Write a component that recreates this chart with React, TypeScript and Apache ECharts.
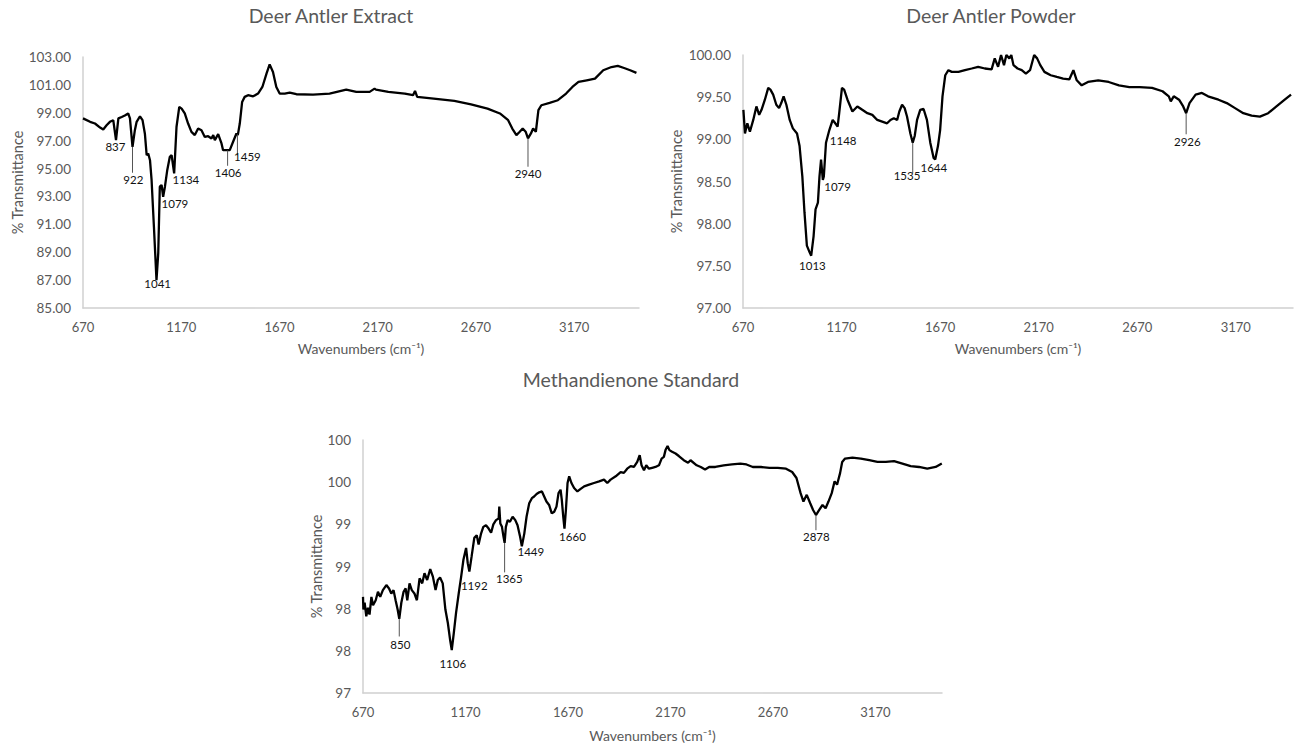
import React, { useEffect, useRef } from 'react';
import * as echarts from 'echarts';

// ---------- tick labels ----------
const xTickLabels = [670, 1170, 1670, 2170, 2670, 3170];

// ---------- titles ----------
const chartTitles = ['Deer Antler Extract', 'Deer Antler Powder', 'Methandienone Standard'];

// ---------- Deer Antler Extract spectrum [wavenumber, %T] ----------
const extractSpectrum: [number, number][] = [
  [670, 98.6], [706, 98.35], [731, 98.23], [757, 97.94], [773, 97.8], [790, 98.1], [807, 98.35], [824, 98.47],
  [838, 97.04], [850, 98.6], [867, 98.7], [883, 98.8], [900, 98.95], [909, 98.6], [922, 96.56], [934, 97.75],
  [943, 98.35], [960, 98.75], [973, 98.47], [985, 97.5], [994, 95.96], [1002, 96.08], [1011, 95.6], [1019, 94.2],
  [1031, 90.83], [1044, 87.0], [1053, 88.93], [1061, 93.7], [1070, 93.82], [1078, 92.98], [1087, 93.7],
  [1099, 94.9], [1112, 95.84], [1121, 95.96], [1134, 94.65], [1146, 98.0], [1160, 99.42], [1172, 99.3],
  [1188, 98.95], [1205, 98.23], [1222, 97.63], [1239, 97.4], [1256, 97.87], [1273, 97.75], [1290, 97.27],
  [1307, 97.32], [1324, 97.16], [1333, 97.4], [1341, 97.04], [1358, 97.47], [1375, 96.8], [1383, 96.32],
  [1400, 96.32], [1417, 96.32], [1434, 96.92], [1451, 97.51], [1458, 97.4], [1468, 98.23], [1480, 99.78],
  [1493, 100.14], [1510, 100.26], [1536, 100.18], [1561, 100.38], [1583, 100.85], [1604, 101.81],
  [1620, 102.47], [1637, 101.92], [1654, 100.85], [1671, 100.38], [1697, 100.38], [1722, 100.45],
  [1756, 100.33], [1841, 100.3], [1925, 100.38], [2010, 100.66], [2061, 100.5], [2129, 100.5], [2154, 100.73],
  [2161, 100.66], [2224, 100.5], [2308, 100.38], [2350, 100.26], [2360, 100.57], [2371, 100.14],
  [2455, 100.02], [2560, 99.85], [2645, 99.61], [2729, 99.3], [2792, 98.95], [2834, 98.47], [2855, 97.87],
  [2876, 97.4], [2893, 97.64], [2908, 97.87], [2923, 97.64], [2935, 97.16], [2950, 97.52], [2961, 97.87],
  [2975, 97.64], [2988, 99.19], [3003, 99.54], [3045, 99.71], [3087, 99.9], [3129, 100.38], [3161, 100.85],
  [3192, 101.21], [3234, 101.33], [3276, 101.45], [3318, 102.05], [3360, 102.28], [3392, 102.36],
  [3424, 102.21], [3455, 102.05], [3487, 101.86],
];

// ---------- Deer Antler Powder spectrum ----------
const powderSpectrum: [number, number][] = [
  [672, 99.35], [680, 99.07], [692, 99.19], [705, 99.09], [722, 99.23], [738, 99.39], [752, 99.29],
  [764, 99.35], [781, 99.47], [798, 99.61], [809, 99.59], [823, 99.53], [839, 99.41], [853, 99.37],
  [864, 99.43], [876, 99.51], [890, 99.41], [907, 99.23], [923, 99.13], [944, 99.07], [957, 98.92],
  [971, 98.56], [982, 98.13], [994, 97.74], [1008, 97.66], [1016, 97.62], [1028, 97.85], [1038, 98.17],
  [1050, 98.25], [1058, 98.56], [1066, 98.76], [1075, 98.52], [1080, 98.56], [1091, 98.96], [1108, 99.11],
  [1125, 99.23], [1138, 99.19], [1150, 99.15], [1158, 99.31], [1172, 99.61], [1183, 99.59], [1200, 99.47],
  [1225, 99.33], [1250, 99.39], [1275, 99.35], [1301, 99.31], [1326, 99.29], [1351, 99.23], [1376, 99.21],
  [1401, 99.19], [1418, 99.23], [1435, 99.25], [1452, 99.23], [1463, 99.33], [1477, 99.41], [1490, 99.37],
  [1502, 99.27], [1519, 99.07], [1531, 98.96], [1541, 99.04], [1553, 99.23], [1569, 99.35], [1586, 99.36],
  [1603, 99.23], [1620, 98.96], [1637, 98.78], [1645, 98.76], [1659, 98.92], [1670, 99.11], [1682, 99.51],
  [1696, 99.76], [1712, 99.82], [1729, 99.8], [1763, 99.8], [1796, 99.82], [1830, 99.84], [1863, 99.86],
  [1897, 99.84], [1931, 99.83], [1947, 99.96], [1964, 99.86], [1979, 100.0], [1994, 99.88], [2006, 100.0],
  [2021, 99.96], [2031, 100.0], [2042, 99.88], [2063, 99.84], [2084, 99.82], [2105, 99.78], [2126, 99.82],
  [2147, 100.0], [2162, 99.96], [2178, 99.88], [2199, 99.8], [2231, 99.76], [2262, 99.74], [2294, 99.72],
  [2325, 99.71], [2346, 99.82], [2363, 99.7], [2388, 99.64], [2420, 99.68], [2472, 99.7], [2525, 99.68],
  [2577, 99.64], [2630, 99.62], [2682, 99.62], [2745, 99.61], [2798, 99.57], [2830, 99.51], [2840, 99.45],
  [2855, 99.51], [2882, 99.47], [2903, 99.39], [2918, 99.31], [2935, 99.43], [2966, 99.53], [2998, 99.55],
  [3029, 99.51], [3082, 99.47], [3124, 99.43], [3166, 99.37], [3208, 99.31], [3250, 99.28], [3292, 99.27],
  [3334, 99.31], [3376, 99.39], [3418, 99.47], [3450, 99.53],
];

// ---------- Methandienone Standard spectrum ----------
const standardSpectrum: [number, number][] = [
  [670, 98.14], [672, 97.99], [678, 98.07], [686, 97.91], [694, 98.01], [702, 97.93], [711, 98.14],
  [719, 98.04], [732, 98.1], [743, 98.2], [754, 98.14], [767, 98.22], [784, 98.28], [797, 98.24],
  [808, 98.18], [819, 98.22], [829, 98.1], [839, 97.99], [847, 97.88], [857, 98.07], [868, 98.2],
  [878, 98.24], [886, 98.1], [897, 98.3], [908, 98.22], [921, 98.18], [933, 98.1], [946, 98.36],
  [959, 98.3], [970, 98.42], [983, 98.34], [998, 98.47], [1011, 98.38], [1024, 98.22], [1035, 98.34],
  [1046, 98.37], [1059, 98.3], [1072, 97.99], [1084, 97.83], [1095, 97.63], [1103, 97.51], [1113, 97.71],
  [1124, 97.95], [1137, 98.18], [1149, 98.38], [1160, 98.58], [1173, 98.72], [1181, 98.54], [1189, 98.44],
  [1200, 98.62], [1213, 98.84], [1225, 98.87], [1234, 98.76], [1246, 98.89], [1257, 98.97], [1270, 98.99],
  [1283, 98.95], [1295, 98.9], [1306, 99.0], [1319, 99.05], [1332, 99.07], [1335, 99.21], [1340, 99.01],
  [1348, 98.97], [1355, 98.86], [1361, 98.78], [1367, 98.97], [1376, 99.05], [1387, 99.03], [1400, 99.09],
  [1413, 99.05], [1424, 98.99], [1436, 98.86], [1445, 98.74], [1457, 98.89], [1468, 99.09], [1481, 99.25],
  [1494, 99.31], [1505, 99.33], [1517, 99.36], [1530, 99.38], [1543, 99.39], [1554, 99.33], [1565, 99.27],
  [1578, 99.23], [1591, 99.13], [1603, 99.15], [1614, 99.21], [1624, 99.37], [1634, 99.41], [1640, 99.29],
  [1647, 99.09], [1653, 98.95], [1660, 99.17], [1668, 99.49], [1676, 99.57], [1687, 99.49], [1700, 99.43],
  [1716, 99.39], [1732, 99.42], [1749, 99.45], [1773, 99.47], [1797, 99.49], [1822, 99.51], [1846, 99.53],
  [1862, 99.49], [1878, 99.53], [1903, 99.57], [1927, 99.62], [1943, 99.61], [1959, 99.66], [1976, 99.69],
  [1992, 99.68], [2008, 99.74], [2020, 99.82], [2029, 99.7], [2041, 99.64], [2052, 99.7], [2065, 99.66],
  [2081, 99.67], [2097, 99.68], [2114, 99.7], [2127, 99.78], [2138, 99.8], [2146, 99.88], [2156, 99.93],
  [2165, 99.88], [2178, 99.86], [2195, 99.84], [2211, 99.81], [2235, 99.76], [2256, 99.73], [2268, 99.76],
  [2298, 99.7], [2318, 99.68], [2339, 99.65], [2359, 99.68], [2389, 99.68], [2430, 99.7], [2470, 99.71],
  [2511, 99.72], [2541, 99.71], [2572, 99.68], [2612, 99.68], [2653, 99.67], [2694, 99.67], [2734, 99.66],
  [2764, 99.62], [2785, 99.55], [2805, 99.37], [2819, 99.27], [2835, 99.35], [2852, 99.25], [2866, 99.17],
  [2880, 99.11], [2896, 99.17], [2912, 99.23], [2927, 99.19], [2941, 99.27], [2957, 99.37], [2971, 99.51],
  [2983, 99.47], [2998, 99.61], [3008, 99.74], [3022, 99.78], [3058, 99.79], [3099, 99.78], [3140, 99.76],
  [3180, 99.74], [3221, 99.74], [3261, 99.75], [3302, 99.72], [3342, 99.69], [3383, 99.68], [3423, 99.66],
  [3464, 99.68], [3494, 99.72],
];

// ---------- peak annotations: labels and [peakX, peakY, lineEndY, labelX, labelY] ----------
const extractPeakLabels = ['837', '922', '1041', '1079', '1134', '1406', '1459', '2940'];
const extractPeakPos: number[][] = [
  [838, 97.04, 97.04, 835, 96.55],
  [922, 96.56, 94.7, 926, 94.22],
  [1044, 87.0, 87.0, 1050, 86.75],
  [1078, 92.98, 92.98, 1138, 92.5],
  [1134, 94.65, 94.65, 1194, 94.22],
  [1406, 96.3, 95.2, 1409, 94.72],
  [1456, 97.45, 95.95, 1507, 95.85],
  [2935, 97.16, 95.13, 2935, 94.65],
];

const powderPeakLabels = ['1013', '1079', '1148', '1535', '1644', '2926'];
const powderPeakPos: number[][] = [
  [1016, 97.62, 97.62, 1022, 97.5],
  [1075, 98.52, 98.52, 1150, 98.44],
  [1150, 99.15, 99.15, 1178, 98.99],
  [1531, 98.96, 98.6, 1502, 98.57],
  [1645, 98.76, 98.76, 1638, 98.67],
  [2918, 99.31, 99.06, 2924, 98.97],
];

const standardPeakLabels = ['850', '1106', '1192', '1365', '1449', '1660', '2878'];
const standardPeakPos: number[][] = [
  [847, 97.88, 97.67, 852, 97.57],
  [1103, 97.51, 97.51, 1108, 97.35],
  [1189, 98.44, 98.44, 1213, 98.28],
  [1361, 98.78, 98.43, 1384, 98.36],
  [1445, 98.74, 98.74, 1489, 98.68],
  [1653, 98.95, 98.95, 1692, 98.86],
  [2880, 99.11, 98.93, 2882, 98.86],
];

const FONT = 'Lato, "Open Sans", sans-serif';
const GRAY = '#595959';

function annotationSeries(idx: number, labels: string[], pos: number[][]) {
  return {
    type: 'custom',
    xAxisIndex: idx,
    yAxisIndex: idx,
    silent: true,
    clip: false,
    z: 5,
    data: pos,
    renderItem: (params: any, api: any) => {
      const p0 = api.coord([api.value(0), api.value(1)]);
      const p1 = api.coord([api.value(0), api.value(2)]);
      const pl = api.coord([api.value(3), api.value(4)]);
      const children: any[] = [];
      if (api.value(2) !== api.value(1)) {
        children.push({
          type: 'line',
          shape: { x1: p0[0], y1: p0[1], x2: p1[0], y2: p1[1] },
          style: { stroke: '#555', lineWidth: 1 },
        });
      }
      children.push({
        type: 'text',
        x: pl[0],
        y: pl[1],
        style: {
          text: labels[params.dataIndex],
          fill: '#111',
          fontSize: 11.5,
          fontFamily: FONT,
          align: 'center',
          verticalAlign: 'middle',
        },
      });
      return { type: 'group', children };
    },
  };
}

function xAxisFor(idx: number, max: number, gap: number) {
  return {
    type: 'value',
    gridIndex: idx,
    min: 670,
    max,
    interval: 500,
    name: 'Wavenumbers (cm\u207B\u00B9)',
    nameLocation: 'middle',
    nameGap: gap,
    nameTextStyle: { color: GRAY, fontSize: 14, fontFamily: FONT },
    axisLine: { show: true, lineStyle: { color: '#d0d0d0', width: 1.5 } },
    axisTick: { show: false },
    splitLine: { show: false },
    axisLabel: {
      color: GRAY,
      fontSize: 13,
      fontFamily: FONT,
      margin: 12,
      formatter: (v: number) => (xTickLabels.includes(Math.round(v)) ? String(Math.round(v)) : ''),
    },
  };
}

function yAxisFor(idx: number, min: number, max: number, interval: number, fmt: (v: number) => string, gap: number) {
  return {
    type: 'value',
    gridIndex: idx,
    min,
    max,
    interval,
    name: '% Transmittance',
    nameLocation: 'middle',
    nameRotate: 90,
    nameGap: gap,
    nameTextStyle: { color: GRAY, fontSize: 14.5, fontFamily: FONT },
    axisLine: { show: true, lineStyle: { color: '#d0d0d0', width: 1.5 } },
    axisTick: { show: false },
    splitLine: { show: false },
    axisLabel: { color: GRAY, fontSize: 13.5, fontFamily: FONT, margin: 12, formatter: fmt },
  };
}

function lineSeries(idx: number, data: [number, number][]) {
  return {
    type: 'line',
    xAxisIndex: idx,
    yAxisIndex: idx,
    data,
    showSymbol: false,
    symbol: 'none',
    lineStyle: { color: '#000', width: 2.3 },
    z: 3,
  };
}

export default function App() {
  const ref = useRef<HTMLDivElement>(null);

  useEffect(() => {
    if (!ref.current) return;
    const chart = echarts.init(ref.current, undefined, { renderer: 'svg' });
    const titleStyle = { fill: GRAY, fontSize: 19.5, fontFamily: FONT, align: 'center', verticalAlign: 'middle' };
    chart.setOption({
      animation: false,
      backgroundColor: '#ffffff',
      graphic: [
        { type: 'text', x: 331, y: 15, style: { ...titleStyle, text: chartTitles[0] } },
        { type: 'text', x: 991, y: 15, style: { ...titleStyle, text: chartTitles[1] } },
        { type: 'text', x: 631, y: 379, style: { ...titleStyle, text: chartTitles[2] } },
      ],
      grid: [
        { left: 83, top: 57, width: 556, height: 251 },
        { left: 743, top: 55, width: 553, height: 253 },
        { left: 363, top: 440, width: 579, height: 253 },
      ],
      xAxis: [xAxisFor(0, 3500, 33), xAxisFor(1, 3460, 33), xAxisFor(2, 3495, 35)],
      yAxis: [
        yAxisFor(0, 85, 103, 2, (v) => v.toFixed(2), 57),
        yAxisFor(1, 97, 100, 0.5, (v) => v.toFixed(2), 59),
        yAxisFor(2, 97, 100, 0.5, (v) => String(Math.round(v)), 38),
      ],
      series: [
        lineSeries(0, extractSpectrum),
        lineSeries(1, powderSpectrum),
        lineSeries(2, standardSpectrum),
        annotationSeries(0, extractPeakLabels, extractPeakPos),
        annotationSeries(1, powderPeakLabels, powderPeakPos),
        annotationSeries(2, standardPeakLabels, standardPeakPos),
      ],
    });
    return () => chart.dispose();
  }, []);

  return (
    <div
      ref={ref}
      style={{ position: 'fixed', left: 0, top: 0, width: 1296, height: 745, background: '#fff' }}
    />
  );
}
